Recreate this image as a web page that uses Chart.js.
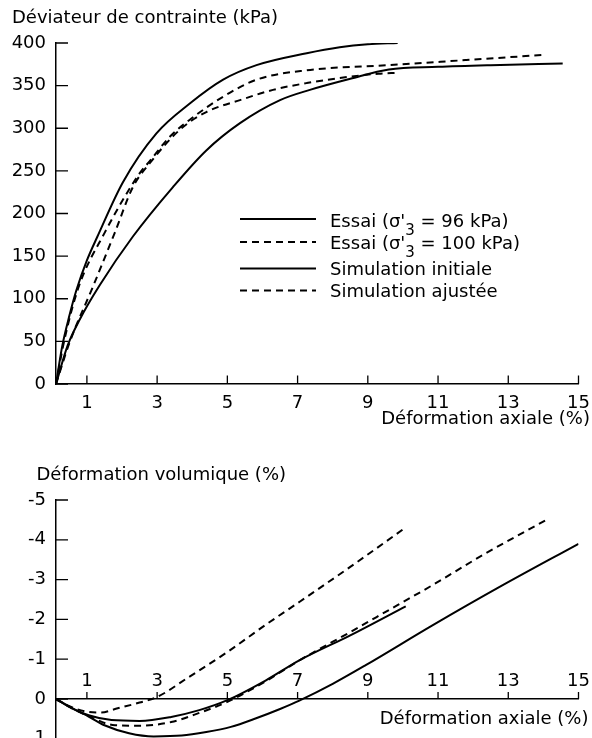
<!DOCTYPE html>
<html>
<head>
<meta charset="utf-8">
<script src="https://cdn.jsdelivr.net/npm/chart.js@4.4.1/dist/chart.umd.min.js"></script>
<style>
  html, body { margin: 0; padding: 0; background: #fff; width: 592px; height: 738px; overflow: hidden; }
  #deviateur { position: absolute; left: 0; top: 0; }
  #volumique { position: absolute; left: 0; top: 440px; }
</style>
</head>
<body>
<canvas id="deviateur" width="592" height="440"></canvas>
<canvas id="volumique" width="592" height="320"></canvas>
<script>
// axial strain (%) ticks, shared by both plots
const xTicks = [1, 3, 5, 7, 9, 11, 13, 15];

// deviator stress (kPa) vs axial strain (%)
const essai96DevX = [0.12, 0.3, 0.5, 0.7, 1.0, 1.3, 2.03, 2.98, 3.93, 4.88, 5.83, 7.26, 8.2, 9.0, 9.85];
const essai96DevY = [0, 45, 80, 110, 145, 173, 237, 294, 329, 357, 374, 388, 395, 398.5, 400];
const essai100DevX = [0.12, 0.5, 1.17, 1.79, 2.31, 2.79, 3.64, 4.4, 5.36, 6.3, 7.26, 8.4, 9.3, 9.85];
const essai100DevY = [0, 48, 114, 177, 231, 259, 298, 319, 333, 345, 353, 360, 364, 365];
const simInitDevX = [0.12, 0.45, 0.8, 1.35, 2.31, 3.45, 4.4, 5.36, 6.5, 7.35, 8.5, 9.6, 11.0, 12.5, 14.55];
const simInitDevY = [0, 45, 76, 115, 173, 231, 274, 306, 333, 345, 358, 369, 372, 374, 376];
const simAjustDevX = [0.12, 0.35, 0.75, 1.5, 2.5, 2.8, 3.36, 3.93, 4.88, 5.83, 7.26, 9.6, 11.8, 14.0];
const simAjustDevY = [0, 50, 112, 177, 247, 262, 290, 310, 337, 357, 368, 374, 380, 386];

// volumetric strain (%) vs axial strain (%)
const essai96VolX = [0.12, 0.5, 1.05, 1.7, 2.5, 3.4, 4.2, 5.0, 6.1, 7.05, 8.5, 10.08];
const essai96VolY = [0, 0.2, 0.41, 0.53, 0.55, 0.45, 0.28, 0.03, -0.47, -0.97, -1.6, -2.33];
const essai100VolX = [0.12, 0.5, 1.0, 1.4, 1.85, 2.5, 3.0, 3.9, 5.0, 6.1, 7.07, 8.5, 10.0];
const essai100VolY = [0, 0.18, 0.32, 0.34, 0.24, 0.09, -0.05, -0.55, -1.18, -1.87, -2.45, -3.32, -4.26];
const simInitVolX = [0.12, 0.6, 1.05, 1.5, 2.2, 2.9, 3.7, 4.4, 5.1, 5.8, 6.5, 7.05, 8.0, 8.94, 10.84, 12.74, 15.0];
const simInitVolY = [0, 0.24, 0.44, 0.66, 0.86, 0.94, 0.92, 0.83, 0.7, 0.49, 0.25, 0.04, -0.38, -0.85, -1.85, -2.81, -3.9];
const simAjustVolX = [0.12, 0.5, 1.05, 1.8, 2.5, 3.4, 4.2, 5.0, 6.1, 7.05, 8.5, 9.25, 10.84, 12.26, 14.1];
const simAjustVolY = [0, 0.2, 0.43, 0.66, 0.67, 0.58, 0.35, 0.07, -0.45, -0.97, -1.68, -2.06, -2.86, -3.61, -4.51];

const labels = ["Essai (σ'3 = 96 kPa)", "Essai (σ'3 = 100 kPa)", "Simulation initiale", "Simulation ajustée"];

const FONT = "'DejaVu Sans', sans-serif";
Chart.defaults.font.family = FONT;
Chart.defaults.font.size = 18;
Chart.defaults.color = '#000';

const DASH = [7, 5];

function pts(xs, ys) {
  return xs.map((x, i) => ({ x: x, y: ys[i] }));
}

function curve(label, xs, ys, dash) {
  return {
    label: label,
    data: pts(xs, ys),
    borderColor: '#000',
    borderWidth: 2,
    borderDash: dash,
    pointRadius: 0,
    fill: false,
    cubicInterpolationMode: 'monotone'
  };
}

// tick marks pointing into the plot
const innerTicks = {
  id: 'innerTicks',
  afterDraw(chart, args, opts) {
    const ctx = chart.ctx, xs = chart.scales.x, ys = chart.scales.y;
    const axisY = ys.getPixelForValue(opts.xAxisAt);
    ctx.save();
    ctx.strokeStyle = '#000';
    ctx.lineWidth = 1.3;
    ctx.beginPath();
    xs.ticks.forEach(t => {
      const px = xs.getPixelForValue(t.value);
      ctx.moveTo(px, axisY);
      ctx.lineTo(px, axisY - opts.xLen);
    });
    ys.ticks.forEach(t => {
      const py = ys.getPixelForValue(t.value);
      ctx.moveTo(chart.chartArea.left, py);
      ctx.lineTo(chart.chartArea.left + opts.yLen, py);
    });
    ctx.stroke();
    ctx.restore();
  }
};

// axis titles
const axisTexts = {
  id: 'axisTexts',
  afterDraw(chart, args, opts) {
    const ctx = chart.ctx;
    ctx.save();
    ctx.fillStyle = '#000';
    ctx.font = '18px ' + FONT;
    ctx.textBaseline = 'alphabetic';
    opts.items.forEach(t => {
      ctx.textAlign = t.align;
      ctx.fillText(t.text, t.x, t.y);
    });
    ctx.restore();
  }
};

// legend drawn inside the plot, with subscript 3
const innerLegend = {
  id: 'innerLegend',
  afterDraw(chart, args, opts) {
    if (!opts.show) return;
    const ctx = chart.ctx;
    ctx.save();
    ctx.fillStyle = '#000';
    ctx.strokeStyle = '#000';
    ctx.textBaseline = 'alphabetic';
    ctx.textAlign = 'left';
    chart.data.datasets.forEach((ds, i) => {
      const ly = opts.lineY[i], by = opts.baseY[i];
      ctx.lineWidth = ds.borderWidth;
      ctx.setLineDash(ds.borderDash || []);
      ctx.beginPath();
      ctx.moveTo(opts.x0, ly);
      ctx.lineTo(opts.x1, ly);
      ctx.stroke();
      ctx.setLineDash([]);
      let x = opts.tx;
      const parts = ds.label.split("σ'3");
      ctx.font = '18px ' + FONT;
      if (parts.length > 1) {
        const a = parts[0] + "σ'";
        ctx.fillText(a, x, by);
        x += ctx.measureText(a).width;
        ctx.font = '15px ' + FONT;
        ctx.fillText('3', x, by + 8);
        x += ctx.measureText('3').width;
        ctx.font = '18px ' + FONT;
        ctx.fillText(parts[1], x, by);
      } else {
        ctx.fillText(ds.label, x, by);
      }
    });
    ctx.restore();
  }
};

Chart.register(innerTicks, axisTexts, innerLegend);

function xScale(labelOpts) {
  return Object.assign({
    type: 'linear',
    min: 0.12,
    max: 15,
    afterBuildTicks: s => { s.ticks = xTicks.map(v => ({ value: v })); },
    grid: { drawOnChartArea: false, drawTicks: false },
    border: { display: true, color: '#000', width: 1.5 }
  }, labelOpts);
}

new Chart(document.getElementById('deviateur'), {
  type: 'line',
  data: {
    datasets: [
      curve(labels[0], essai96DevX, essai96DevY, []),
      curve(labels[1], essai100DevX, essai100DevY, DASH),
      curve(labels[2], simInitDevX, simInitDevY, []),
      curve(labels[3], simAjustDevX, simAjustDevY, DASH)
    ]
  },
  options: {
    responsive: false,
    animation: false,
    layout: { padding: { left: 0, right: 13.5, top: 43, bottom: 0 } },
    plugins: {
      legend: { display: false },
      tooltip: { enabled: false },
      innerTicks: { xAxisAt: 0, xLen: 8.5, yLen: 12 },
      axisTexts: {
        items: [
          { text: 'Déviateur de contrainte (kPa)', x: 12, y: 22.5, align: 'left' },
          { text: 'Déformation axiale (%)', x: 590, y: 423.5, align: 'right' }
        ]
      },
      innerLegend: {
        show: true, x0: 240, x1: 316, tx: 330,
        lineY: [219, 242, 268.5, 290.5],
        baseY: [227, 249, 274.5, 296.5]
      }
    },
    scales: {
      x: xScale({
        position: 'bottom',
        ticks: { padding: 8.5, maxRotation: 0, autoSkip: false },
        afterFit: s => { s.height = 56; s.paddingLeft = 0; s.paddingRight = 0; }
      }),
      y: {
        type: 'linear',
        min: 0,
        max: 400,
        ticks: { stepSize: 50, padding: 10 },
        grid: { drawOnChartArea: false, drawTicks: false },
        border: { display: true, color: '#000', width: 1.5 },
        afterFit: s => { s.width = 56; }
      }
    }
  }
});

new Chart(document.getElementById('volumique'), {
  type: 'line',
  data: {
    datasets: [
      curve(labels[0], essai96VolX, essai96VolY, []),
      curve(labels[1], essai100VolX, essai100VolY, DASH),
      curve(labels[2], simInitVolX, simInitVolY, []),
      curve(labels[3], simAjustVolX, simAjustVolY, DASH)
    ]
  },
  options: {
    responsive: false,
    animation: false,
    layout: { padding: { left: 0, right: 13.5, top: 60, bottom: 21.2 } },
    plugins: {
      legend: { display: false },
      tooltip: { enabled: false },
      innerTicks: { xAxisAt: 0, xLen: 7, yLen: 12 },
      axisTexts: {
        items: [
          { text: 'Déformation volumique (%)', x: 36.5, y: 40, align: 'left' },
          { text: 'Déformation axiale (%)', x: 588.5, y: 284.3, align: 'right' }
        ]
      },
      innerLegend: { show: false }
    },
    scales: {
      x: xScale({
        position: { y: 0 },
        ticks: { mirror: true, maxRotation: 0, autoSkip: false, font: { size: 18, lineHeight: 2.33 } },
        afterFit: s => { s.paddingLeft = 0; s.paddingRight = 0; }
      }),
      y: {
        type: 'linear',
        reverse: true,
        min: -5,
        max: 1,
        ticks: { stepSize: 1, padding: 10 },
        grid: { drawOnChartArea: false, drawTicks: false },
        border: { display: true, color: '#000', width: 1.5 },
        afterFit: s => { s.width = 56; }
      }
    }
  }
});
</script>
</body>
</html>
